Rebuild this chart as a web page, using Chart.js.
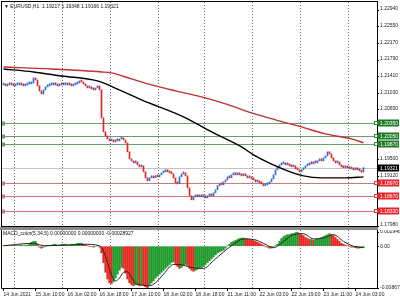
<!DOCTYPE html>
<html lang="en">
<head>
  <meta charset="UTF-8" />
  <title>EURUSD H1</title>
  <script src="https://cdn.jsdelivr.net/npm/chart.js"></script>
  <style>
    html, body { margin: 0; padding: 0; background: #fff; }
    #wrap { position: relative; width: 400px; height: 300px; overflow: hidden; }
    #priceBox { position: absolute; left: 0; top: 0; width: 400px; height: 227px; }
    #sep { position: absolute; left: 0; top: 227px; width: 378px; height: 3px; background: #8a8a8a; }
    #macdBox { position: absolute; left: 0; top: 230px; width: 400px; height: 70px; }
  </style>
</head>
<body>
  <div id="wrap">
    <div id="priceBox"><canvas id="priceChart" width="400" height="227"></canvas></div>
    <div id="sep"></div>
    <div id="macdBox"><canvas id="macdChart" width="400" height="70"></canvas></div>
  </div>

  <script>
    // H1 closes, bar 0 = 14 Jun 18:00
    const closes = [
      1.21220, 1.21197, 1.21220, 1.21242, 1.21220, 1.21197, 1.21220, 1.21220, 1.21242, 1.21220,
      1.21197, 1.21220, 1.21242, 1.21242, 1.21265, 1.21380, 1.21334, 1.21197, 1.21082, 1.21013,
      1.21105, 1.21174, 1.21197, 1.21220, 1.21220, 1.21242, 1.21220, 1.21197, 1.21220, 1.21242,
      1.21220, 1.21220, 1.21242, 1.21220, 1.21197, 1.21220, 1.21242, 1.21265, 1.21311, 1.21288,
      1.21242, 1.21197, 1.21151, 1.21174, 1.21128, 1.21105, 1.21151, 1.21197, 1.21105, 1.20463,
      1.20141, 1.20050, 1.19981, 1.19935, 1.19958, 1.19912, 1.19958, 1.19935, 1.19981, 1.20004,
      1.19958, 1.19889, 1.19683, 1.19522, 1.19476, 1.19430, 1.19453, 1.19384, 1.19338, 1.19361,
      1.19224, 1.19086, 1.19017, 1.19086, 1.19109, 1.19086, 1.19132, 1.19109, 1.19155, 1.19201,
      1.19224, 1.19247, 1.19224, 1.19201, 1.19178, 1.19086, 1.18971, 1.18948, 1.19109, 1.19178,
      1.19201, 1.19132, 1.18857, 1.18673, 1.18581, 1.18650, 1.18673, 1.18650, 1.18696, 1.18650,
      1.18673, 1.18627, 1.18673, 1.18696, 1.18673, 1.18742, 1.18811, 1.18903, 1.18948, 1.18926,
      1.18994, 1.19040, 1.19109, 1.19086, 1.19155, 1.19178, 1.19155, 1.19178, 1.19155, 1.19132,
      1.19155, 1.19132, 1.19086, 1.19109, 1.19063, 1.19040, 1.18994, 1.19017, 1.18971, 1.18948,
      1.18903, 1.18926, 1.18948, 1.18994, 1.19063, 1.19155, 1.19270, 1.19338, 1.19384, 1.19407,
      1.19430, 1.19384, 1.19407, 1.19361, 1.19338, 1.19361, 1.19293, 1.19270, 1.19224, 1.19270,
      1.19316, 1.19361, 1.19384, 1.19430, 1.19407, 1.19453, 1.19430, 1.19476, 1.19499, 1.19476,
      1.19545, 1.19591, 1.19683, 1.19637, 1.19545, 1.19476, 1.19430, 1.19453, 1.19384, 1.19338,
      1.19316, 1.19361, 1.19316, 1.19293, 1.19316, 1.19270, 1.19293, 1.19270, 1.19247, 1.19217,
      1.19321
    ];

    // moving averages (read at a few bars)
    const fastMaBars = [0, 15, 29, 47, 59, 69, 90, 104, 119, 125, 142, 150, 159, 171, 180];
    const fastMaValues = [1.21587, 1.21518, 1.21426, 1.21311, 1.21082, 1.20875, 1.20485, 1.20141,
      1.19797, 1.19614, 1.19247, 1.19132, 1.19086, 1.19086, 1.19109];
    const slowMaBars = [0, 24, 49, 54, 64, 74, 86, 99, 111, 124, 136, 149, 161, 174, 180];
    const slowMaValues = [1.21632, 1.21587, 1.21518, 1.21495, 1.21357, 1.21220, 1.21082, 1.20944,
      1.20784, 1.20577, 1.20417, 1.20256, 1.20095, 1.19981, 1.19889];

    // MACD_color(5,34,5)
    const macdHist = [
      0.0001, 0.0001, 0.0002, 0.0001, 0.0001, 0.0002, 0.0001, 0.0001, 0.0002, 0.0002,
      0.0001, 0.0002, 0.0002, 0.0004, 0.0008, 0.0010, 0.0010, 0.0004, -0.0002, -0.0004,
      -0.0002, -0.0001, 0.0002, 0.0002, 0.0002, 0.0004, 0.0004, 0.0002, 0.0002, 0.0004,
      0.0004, 0.0004, 0.0002, 0.0002, 0.0004, 0.0004, 0.0004, 0.0006, 0.0006, 0.0006,
      0.0004, 0.0002, 0.0001, -0.0001, -0.0001, -0.0002, -0.0001, 0.0001, -0.0002, -0.0014,
      -0.0034, -0.0054, -0.0068, -0.0076, -0.0078, -0.0074, -0.0066, -0.0058, -0.0050, -0.0044,
      -0.0046, -0.0056, -0.0068, -0.0076, -0.0080, -0.0082, -0.0080, -0.0080, -0.0082, -0.0080,
      -0.0082, -0.0084, -0.0086, -0.0080, -0.0076, -0.0072, -0.0066, -0.0062, -0.0058, -0.0054,
      -0.0050, -0.0046, -0.0042, -0.0038, -0.0034, -0.0032, -0.0036, -0.0042, -0.0046, -0.0044,
      -0.0040, -0.0038, -0.0040, -0.0046, -0.0050, -0.0052, -0.0050, -0.0048, -0.0046, -0.0044,
      -0.0042, -0.0038, -0.0034, -0.0030, -0.0026, -0.0022, -0.0018, -0.0014, -0.0012, -0.0010,
      -0.0008, -0.0004, 0.0001, 0.0004, 0.0008, 0.0010, 0.0012, 0.0014, 0.0016, 0.0017,
      0.0017, 0.0016, 0.0015, 0.0014, 0.0013, 0.0012, 0.0010, 0.0008, 0.0006, 0.0004,
      0.0002, -0.0001, -0.0002, -0.0004, -0.0004, -0.0002, 0.0001, 0.0004, 0.0010, 0.0016,
      0.0020, 0.0022, 0.0024, 0.0024, 0.0026, 0.0026, 0.0028, 0.0029, 0.0026, 0.0024,
      0.0022, 0.0018, 0.0016, 0.0014, 0.0014, 0.0012, 0.0014, 0.0016, 0.0016, 0.0018,
      0.0020, 0.0022, 0.0024, 0.0026, 0.0024, 0.0022, 0.0018, 0.0014, 0.0010, 0.0006,
      0.0004, 0.0002, 0.0001, -0.0001, -0.0002, -0.0002, -0.0003, -0.0004, -0.0004, -0.0003,
      -0.00029
    ];
    const signalBars = [0, 15, 19, 22, 40, 48, 50, 52, 54, 56, 58, 60, 62, 64, 66, 70, 73, 76, 80, 85,
      88, 92, 95, 100, 105, 110, 115, 120, 125, 130, 135, 140, 145, 150, 155, 160, 165, 170, 175, 180];
    const signalValues = [0.0001, 0.0006, 0.0002, 0.0001, 0.0004, 0.0001, -0.0010, -0.0034, -0.0060,
      -0.0072, -0.0066, -0.0054, -0.0053, -0.0065, -0.0077, -0.0081, -0.0082, -0.0076, -0.0058, -0.0038,
      -0.0038, -0.0042, -0.0045, -0.0046, -0.0030, -0.0012, 0.0004, 0.0015, 0.0014, 0.0006,
      -0.0003, 0.0010, 0.0024, 0.0026, 0.0015, 0.0017, 0.0024, 0.0010, 0.0000, -0.0003];

    // axes
    const priceTicks = [1.22940, 1.22550, 1.22170, 1.21790, 1.21410, 1.21030, 1.20650, 1.19500, 1.19120, 1.17980];
    const macdTicks = [0.0029469, 0, -0.008670];
    const macdTickLabels = ['0.0029469', '0.00', '-0.008670'];
    const dateBars = [0, 16, 32, 48, 64, 80, 96, 112, 128, 144, 160, 176];
    const dateLabels = ['14 Jun 2021', '15 Jun 10:00', '16 Jun 02:00', '16 Jun 18:00', '17 Jun 10:00',
      '18 Jun 02:00', '18 Jun 18:00', '21 Jun 11:00', '22 Jun 03:00', '22 Jun 19:00', '23 Jun 11:00', '24 Jun 03:00'];
    const dayBars = [5, 29, 53, 77, 100, 124, 148, 172];

    // horizontal levels
    const greenLevels = [1.20350, 1.20050, 1.19870];
    const redLevels = [1.18970, 1.18670, 1.18330];
    const bid = 1.19321;

    const header = '\u25BC EURUSD,H1  1.19217 1.19348 1.19166 1.19321';
    const macdTitle = 'MACD_color(5,34,5) 0.00000000 0.00000000 -0.00028927';

    const upColor = '#2f6fd6';
    const downColor = '#dc2626';
    const FONT = '"Liberation Sans", Arial, sans-serif';

    Chart.defaults.font.family = FONT;
    Chart.defaults.font.size = 5;
    Chart.defaults.color = '#222';
    Chart.defaults.animation = false;

    const opens = closes.map((c, i) => i > 0 ? closes[i - 1] : c);
    const xRange = { min: -0.75, max: 186.75 };

    function drawDayGrid(chart, top) {
      const { ctx, chartArea: a, scales: { x } } = chart;
      ctx.save();
      ctx.strokeStyle = '#6f6f6f';
      ctx.lineWidth = 1;
      ctx.setLineDash([1, 2]);
      dayBars.forEach(b => {
        const px = Math.round(x.getPixelForValue(b)) + 0.5;
        ctx.beginPath();
        ctx.moveTo(px, top);
        ctx.lineTo(px, a.bottom);
        ctx.stroke();
      });
      ctx.restore();
    }

    function levelLabel(ctx, y, text, bg, marker) {
      ctx.fillStyle = bg;
      ctx.fillRect(378, y - 3.5, 21, 7);
      ctx.fillStyle = '#fff';
      ctx.textBaseline = 'middle';
      ctx.textAlign = 'left';
      ctx.fillText(text, 380, y + 0.5);
      if (marker) {
        ctx.strokeStyle = marker;
        ctx.fillStyle = '#fff';
        ctx.fillRect(374.5, y - 1.5, 3, 3);
        ctx.strokeRect(374.5, y - 1.5, 3, 3);
      }
    }

    const pricePlugin = {
      id: 'pricePlugin',
      beforeDatasetsDraw(chart) {
        const { ctx, chartArea: a, scales: { y } } = chart;
        drawDayGrid(chart, a.top);
        ctx.save();
        ctx.lineWidth = 1;
        const line = (v, color) => {
          const py = Math.round(y.getPixelForValue(v)) + 0.5;
          ctx.strokeStyle = color;
          ctx.beginPath();
          ctx.moveTo(a.left, py);
          ctx.lineTo(a.right, py);
          ctx.stroke();
          ctx.strokeRect(a.left + 0.5, py - 1.5, 2, 3);
        };
        greenLevels.forEach(v => line(v, '#6a9e6a'));
        redLevels.forEach(v => line(v, '#cf7a7a'));
        const by = Math.round(y.getPixelForValue(bid)) + 0.5;
        ctx.strokeStyle = '#c4c4c4';
        ctx.beginPath();
        ctx.moveTo(a.left, by);
        ctx.lineTo(a.right, by);
        ctx.stroke();
        ctx.restore();
      },
      afterDraw(chart) {
        const { ctx, chartArea: a, scales: { y } } = chart;
        ctx.save();
        ctx.strokeStyle = '#000';
        ctx.lineWidth = 1;
        ctx.strokeRect(a.left - 0.5, a.top - 0.5, a.right - a.left + 1, a.bottom - a.top + 1);
        ctx.font = '5px ' + FONT;
        greenLevels.forEach(v => levelLabel(ctx, Math.round(y.getPixelForValue(v)), v.toFixed(5), '#1f7a24', '#2f8a34'));
        redLevels.forEach(v => levelLabel(ctx, Math.round(y.getPixelForValue(v)), v.toFixed(5), '#e8262a', '#d23a3a'));
        levelLabel(ctx, Math.round(y.getPixelForValue(bid)), bid.toFixed(5), '#000', null);
        ctx.fillStyle = '#111';
        ctx.textBaseline = 'top';
        ctx.textAlign = 'left';
        ctx.fillText(header, a.left + 2, a.top + 2);
        ctx.restore();
      }
    };

    new Chart(document.getElementById('priceChart'), {
      type: 'bar',
      data: {
        datasets: [
          {
            type: 'line',
            data: fastMaBars.map((b, i) => ({ x: b, y: fastMaValues[i] })),
            borderColor: '#000',
            borderWidth: 1.4,
            pointRadius: 0,
            cubicInterpolationMode: 'monotone',
            order: 1
          },
          {
            type: 'line',
            data: slowMaBars.map((b, i) => ({ x: b, y: slowMaValues[i] })),
            borderColor: '#c0302c',
            borderWidth: 1.4,
            pointRadius: 0,
            cubicInterpolationMode: 'monotone',
            order: 1
          },
          {
            data: closes.map((c, i) => ({ x: i, y: [opens[i], c] })),
            backgroundColor: ctx => {
              const v = ctx.raw.y;
              return v[1] >= v[0] ? upColor : downColor;
            },
            barThickness: 1,
            minBarLength: 2,
            grouped: false,
            order: 2
          }
        ]
      },
      options: {
        responsive: false,
        animation: false,
        layout: { padding: { left: 2, top: 2, right: 0, bottom: 1 }, autoPadding: false },
        plugins: { legend: { display: false }, tooltip: { enabled: false } },
        scales: {
          x: { type: 'linear', min: xRange.min, max: xRange.max, offset: false, display: false },
          y: {
            position: 'right',
            min: 1.17980,
            max: 1.23124,
            afterBuildTicks: s => { s.ticks = priceTicks.map(v => ({ value: v })); },
            afterFit: s => { s.width = 23; s.paddingTop = 0; s.paddingBottom = 0; },
            grid: { drawOnChartArea: false, tickLength: 2, color: '#000' },
            border: { display: false },
            ticks: { padding: 1, labelOffset: -1, color: '#222', callback: v => v.toFixed(5) }
          }
        }
      },
      plugins: [pricePlugin]
    });

    const macdPlugin = {
      id: 'macdPlugin',
      beforeDatasetsDraw(chart) {
        drawDayGrid(chart, 0);
      },
      afterDraw(chart) {
        const { ctx, chartArea: a } = chart;
        ctx.save();
        ctx.strokeStyle = '#000';
        ctx.lineWidth = 1;
        ctx.beginPath();
        ctx.moveTo(a.left - 0.5, 0);
        ctx.lineTo(a.left - 0.5, a.bottom + 0.5);
        ctx.lineTo(a.right + 0.5, a.bottom + 0.5);
        ctx.lineTo(a.right + 0.5, 0);
        ctx.stroke();
        ctx.font = '5px ' + FONT;
        ctx.fillStyle = '#111';
        ctx.textBaseline = 'top';
        ctx.fillText(macdTitle, a.left + 1, 1);
        ctx.restore();
      }
    };

    new Chart(document.getElementById('macdChart'), {
      type: 'bar',
      data: {
        datasets: [
          {
            type: 'line',
            data: signalBars.map((b, i) => ({ x: b, y: signalValues[i] })),
            borderColor: '#262626',
            borderWidth: 1,
            pointRadius: 0,
            cubicInterpolationMode: 'monotone',
            order: 1
          },
          {
            data: macdHist.map((v, i) => ({ x: i, y: v })),
            backgroundColor: ctx => {
              const i = ctx.dataIndex;
              const prev = i > 0 ? macdHist[i - 1] : macdHist[i];
              return macdHist[i] >= prev ? '#1e9a2a' : '#e5281f';
            },
            barThickness: 1.6,
            grouped: false,
            order: 2
          }
        ]
      },
      options: {
        responsive: false,
        animation: false,
        layout: { padding: { left: 2, top: 2, right: 0, bottom: 0 }, autoPadding: false },
        plugins: { legend: { display: false }, tooltip: { enabled: false } },
        scales: {
          x: {
            type: 'linear',
            min: xRange.min,
            max: xRange.max,
            offset: false,
            afterBuildTicks: s => { s.ticks = dateBars.map(v => ({ value: v })); },
            afterFit: s => { s.height = 12; s.paddingLeft = 0; s.paddingRight = 0; },
            grid: { drawOnChartArea: false, tickLength: 3, color: '#000', offset: false },
            border: { display: false },
            ticks: {
              align: 'start',
              maxRotation: 0,
              autoSkip: false,
              padding: 1,
              color: '#222',
              callback: v => dateLabels[dateBars.indexOf(v)]
            }
          },
          y: {
            position: 'right',
            min: -0.008670,
            max: 0.0029469,
            afterBuildTicks: s => { s.ticks = macdTicks.map(v => ({ value: v })); },
            afterFit: s => { s.width = 23; s.paddingTop = 0; s.paddingBottom = 0; },
            grid: { drawOnChartArea: false, tickLength: 2, color: '#000' },
            border: { display: false },
            ticks: { padding: 1, color: '#222', callback: v => macdTickLabels[macdTicks.indexOf(v)] }
          }
        }
      },
      plugins: [macdPlugin]
    });
  </script>
</body>
</html>
